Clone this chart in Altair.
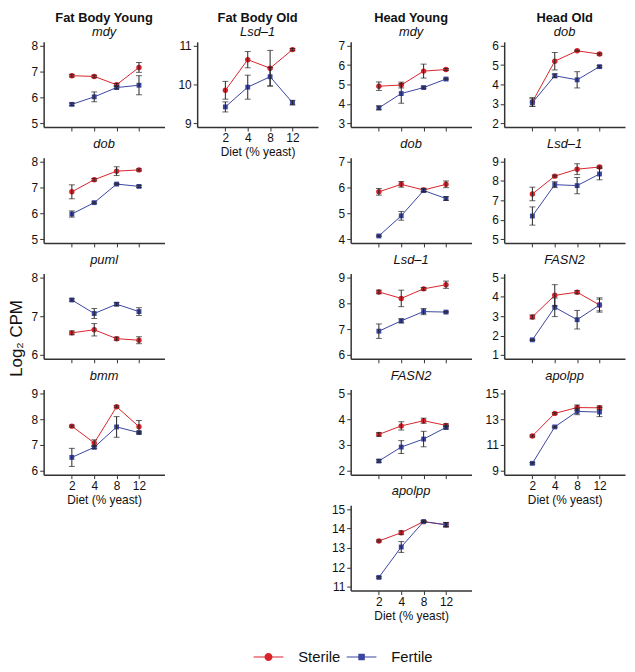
import altair as alt
import pandas as pd

DIETS = [2, 4, 8, 12]
CONDS = ["Sterile", "Fertile"]
RED = "#D8232A"
BLUE = "#3A45A0"
FONT = "Liberation Sans"

# ---- Fat Body Young ----
fby_mdy_ster = [6.84, 6.81, 6.49, 7.16]
fby_mdy_ster_err = [0.05, 0.05, 0.05, 0.19]
fby_mdy_fert = [5.73, 6.02, 6.38, 6.47]
fby_mdy_fert_err = [0.05, 0.19, 0.05, 0.37]

fby_dob_ster = [6.83, 7.30, 7.63, 7.68]
fby_dob_ster_err = [0.27, 0.05, 0.17, 0.04]
fby_dob_fert = [5.97, 6.41, 7.13, 7.04]
fby_dob_fert_err = [0.12, 0.03, 0.03, 0.04]

fby_puml_ster = [6.57, 6.65, 6.42, 6.38]
fby_puml_ster_err = [0.05, 0.16, 0.04, 0.09]
fby_puml_fert = [7.42, 7.07, 7.31, 7.12]
fby_puml_fert_err = [0.03, 0.13, 0.04, 0.10]

fby_bmm_ster = [7.73, 7.08, 8.48, 7.71]
fby_bmm_ster_err = [0.04, 0.12, 0.04, 0.24]
fby_bmm_fert = [6.52, 6.91, 7.70, 7.48]
fby_bmm_fert_err = [0.35, 0.05, 0.40, 0.05]

# ---- Fat Body Old ----
fbo_lsd1_ster = [9.85, 10.64, 10.42, 10.90]
fbo_lsd1_ster_err = [0.23, 0.21, 0.46, 0.03]
fbo_lsd1_fert = [9.42, 9.93, 10.20, 9.53]
fbo_lsd1_fert_err = [0.13, 0.31, 0.24, 0.06]

# ---- Head Young ----
hy_mdy_ster = [4.91, 4.97, 5.69, 5.77]
hy_mdy_ster_err = [0.22, 0.15, 0.36, 0.05]
hy_mdy_fert = [3.79, 4.53, 4.84, 5.28]
hy_mdy_fert_err = [0.10, 0.50, 0.04, 0.04]

hy_dob_ster = [5.83, 6.12, 5.90, 6.12]
hy_dob_ster_err = [0.13, 0.11, 0.07, 0.13]
hy_dob_fert = [4.12, 4.90, 5.88, 5.57]
hy_dob_fert_err = [0.03, 0.17, 0.05, 0.07]

hy_lsd1_ster = [8.44, 8.19, 8.56, 8.72]
hy_lsd1_ster_err = [0.07, 0.32, 0.05, 0.14]
hy_lsd1_fert = [6.92, 7.32, 7.68, 7.66]
hy_lsd1_fert_err = [0.28, 0.08, 0.12, 0.03]

hy_fasn2_ster = [3.41, 3.74, 3.94, 3.76]
hy_fasn2_ster_err = [0.07, 0.16, 0.10, 0.06]
hy_fasn2_fert = [2.38, 2.92, 3.23, 3.68]
hy_fasn2_fert_err = [0.05, 0.25, 0.30, 0.06]

hy_apolpp_ster = [13.36, 13.79, 14.36, 14.20]
hy_apolpp_ster_err = [0.05, 0.10, 0.04, 0.10]
hy_apolpp_fert = [11.48, 13.05, 14.36, 14.20]
hy_apolpp_fert_err = [0.04, 0.28, 0.04, 0.12]

# ---- Head Old ----
ho_dob_ster = [3.10, 5.20, 5.74, 5.57]
ho_dob_ster_err = [0.22, 0.45, 0.03, 0.05]
ho_dob_fert = [3.06, 4.45, 4.24, 4.92]
ho_dob_fert_err = [0.20, 0.10, 0.42, 0.05]

ho_lsd1_ster = [7.33, 8.25, 8.61, 8.72]
ho_lsd1_ster_err = [0.35, 0.05, 0.28, 0.05]
ho_lsd1_fert = [6.19, 7.81, 7.76, 8.36]
ho_lsd1_fert_err = [0.47, 0.15, 0.42, 0.30]

ho_fasn2_ster = [2.96, 4.08, 4.24, 3.58]
ho_fasn2_ster_err = [0.10, 0.55, 0.08, 0.37]
ho_fasn2_fert = [1.78, 3.46, 2.82, 3.58]
ho_fasn2_fert_err = [0.03, 0.48, 0.48, 0.30]

ho_apolpp_ster = [11.70, 13.45, 13.90, 13.88]
ho_apolpp_ster_err = [0.08, 0.06, 0.20, 0.15]
ho_apolpp_fert = [9.58, 12.40, 13.60, 13.55]
ho_apolpp_fert_err = [0.06, 0.06, 0.25, 0.35]

COLUMN_TITLES = ["Fat Body Young", "Fat Body Old", "Head Young", "Head Old"]
X_TITLE = "Diet (% yeast)"
Y_TITLE = "Log\u2082 CPM"

W, H = 122, 86

LEG_CIRCLE = ("M-1,-0.035H1V0.035H-1Z "
              "M0.27,0A0.27,0.27 0 1,1 -0.27,0A0.27,0.27 0 1,1 0.27,0Z")
LEG_SQUARE = ("M-1,-0.035H1V0.035H-1Z "
              "M-0.22,-0.22H0.22V0.22H-0.22Z")

X_LABEL_EXPR = "['', '2', '4', '8', '12'][datum.value]"


def make_df(s, se, f, fe):
    rows = []
    for cond, m, e in (("Sterile", s, se), ("Fertile", f, fe)):
        for i, (d, mv, ev) in enumerate(zip(DIETS, m, e)):
            rows.append({"diet": d, "pos": i + 1, "cond": cond, "mean": mv,
                         "lo": mv - ev, "hi": mv + ev})
    return pd.DataFrame(rows)


def panel(gene, s, se, f, fe, ticks, domain, bottom=False, legend=False,
          col_title=None):
    df = make_df(s, se, f, fe)
    xax = alt.Axis(title=X_TITLE if bottom else None, labels=bottom,
                   labelAngle=0, values=[1, 2, 3, 4], labelExpr=X_LABEL_EXPR)
    x = alt.X("pos:Q", scale=alt.Scale(domain=[-0.26, 5.14], nice=False, zero=False),
              axis=xax)
    yscale = alt.Scale(domain=domain, nice=False, zero=False)
    yax = alt.Axis(values=ticks, title=None, format="d")
    y = alt.Y("mean:Q", scale=yscale, axis=yax)
    base = alt.Chart(df)
    ster = base.transform_filter("datum.cond == 'Sterile'")
    fert = base.transform_filter("datum.cond == 'Fertile'")
    line_s = ster.mark_line(strokeWidth=1, color=RED).encode(x=x, y=y)
    line_f = fert.mark_line(strokeWidth=1, color=BLUE).encode(x=x, y=y)
    pts_s = ster.mark_point(shape="circle", filled=True, size=30, opacity=1,
                            color=RED).encode(x=x, y=y)
    pts_f = fert.mark_point(shape="square", filled=True, size=24, opacity=1,
                            color=BLUE).encode(x=x, y=y)
    rule = base.mark_rule(color="#222", strokeWidth=1).encode(
        x=x, y=alt.Y("lo:Q", scale=yscale, axis=yax), y2="hi:Q")
    cap_lo = base.mark_tick(color="#222", size=6, thickness=1,
                            orient="horizontal").encode(
        x=x, y=alt.Y("lo:Q", scale=yscale, axis=yax))
    cap_hi = base.mark_tick(color="#222", size=6, thickness=1,
                            orient="horizontal").encode(
        x=x, y=alt.Y("hi:Q", scale=yscale, axis=yax))
    layers = [line_s, line_f, pts_s, pts_f, rule, cap_lo, cap_hi]
    if legend:
        leg = base.transform_filter("false").mark_point(filled=True, opacity=1).encode(
            x=x, y=y,
            fill=alt.Fill("cond:N", scale=alt.Scale(domain=CONDS, range=[RED, BLUE]),
                          legend=alt.Legend(title=None)),
            shape=alt.Shape("cond:N", scale=alt.Scale(domain=CONDS,
                                                       range=[LEG_CIRCLE, LEG_SQUARE]),
                            legend=alt.Legend(title=None)))
        layers.append(leg)
    if col_title:
        title = alt.TitleParams(col_title, subtitle=gene, fontSize=13, fontWeight="bold",
                                font=FONT, subtitleFont=FONT, subtitleFontSize=13,
                                subtitleFontStyle="italic", subtitleColor="#111",
                                subtitlePadding=1, offset=1, anchor="middle")
    else:
        title = alt.TitleParams(gene, fontStyle="italic", fontWeight="normal",
                                fontSize=13, font=FONT, offset=5, anchor="middle")
    return alt.layer(*layers).properties(width=W, height=H, title=title)


def blank():
    return alt.Chart(pd.DataFrame({"v": [0]})).mark_point(opacity=0).encode(
        x=alt.X("v:Q", axis=None), y=alt.Y("v:Q", axis=None)
    ).properties(width=W, height=H)


cells = [
    # row 1
    panel("mdy", fby_mdy_ster, fby_mdy_ster_err, fby_mdy_fert, fby_mdy_fert_err,
          [5, 6, 7, 8], [4.85, 8.15], legend=True, col_title=COLUMN_TITLES[0]),
    panel("Lsd\u20131", fbo_lsd1_ster, fbo_lsd1_ster_err, fbo_lsd1_fert, fbo_lsd1_fert_err,
          [9, 10, 11], [8.9, 11.1], bottom=True, col_title=COLUMN_TITLES[1]),
    panel("mdy", hy_mdy_ster, hy_mdy_ster_err, hy_mdy_fert, hy_mdy_fert_err,
          [3, 4, 5, 6, 7], [2.8, 7.2], col_title=COLUMN_TITLES[2]),
    panel("dob", ho_dob_ster, ho_dob_ster_err, ho_dob_fert, ho_dob_fert_err,
          [2, 3, 4, 5, 6], [1.8, 6.2], col_title=COLUMN_TITLES[3]),
    # row 2
    panel("dob", fby_dob_ster, fby_dob_ster_err, fby_dob_fert, fby_dob_fert_err,
          [5, 6, 7, 8], [4.85, 8.15]),
    blank(),
    panel("dob", hy_dob_ster, hy_dob_ster_err, hy_dob_fert, hy_dob_fert_err,
          [4, 5, 6, 7], [3.85, 7.15]),
    panel("Lsd\u20131", ho_lsd1_ster, ho_lsd1_ster_err, ho_lsd1_fert, ho_lsd1_fert_err,
          [5, 6, 7, 8, 9], [4.8, 9.2]),
    # row 3
    panel("puml", fby_puml_ster, fby_puml_ster_err, fby_puml_fert, fby_puml_fert_err,
          [6, 7, 8], [5.9, 8.1]),
    blank(),
    panel("Lsd\u20131", hy_lsd1_ster, hy_lsd1_ster_err, hy_lsd1_fert, hy_lsd1_fert_err,
          [6, 7, 8, 9], [5.85, 9.15]),
    panel("FASN2", ho_fasn2_ster, ho_fasn2_ster_err, ho_fasn2_fert, ho_fasn2_fert_err,
          [1, 2, 3, 4, 5], [0.8, 5.2]),
    # row 4
    panel("bmm", fby_bmm_ster, fby_bmm_ster_err, fby_bmm_fert, fby_bmm_fert_err,
          [6, 7, 8, 9], [5.85, 9.15], bottom=True),
    blank(),
    panel("FASN2", hy_fasn2_ster, hy_fasn2_ster_err, hy_fasn2_fert, hy_fasn2_fert_err,
          [2, 3, 4, 5], [1.85, 5.15]),
    panel("apolpp", ho_apolpp_ster, ho_apolpp_ster_err, ho_apolpp_fert, ho_apolpp_fert_err,
          [9, 11, 13, 15], [8.7, 15.3], bottom=True),
    # row 5
    blank(),
    blank(),
    panel("apolpp", hy_apolpp_ster, hy_apolpp_ster_err, hy_apolpp_fert, hy_apolpp_fert_err,
          [11, 12, 13, 14, 15], [10.8, 15.2], bottom=True),
    blank(),
]

chart = alt.concat(*cells, columns=4, spacing={"row": 31, "column": 33},
                   bounds="flush").properties(
    title=alt.TitleParams(Y_TITLE, orient="left", fontSize=17, fontWeight="normal",
                          font=FONT, anchor="middle", offset=5),
    padding={"left": 0, "top": 0, "right": 2, "bottom": 0},
).configure_view(stroke=None).configure_axis(
    grid=False, domainColor="#333", domainWidth=1.5, tickColor="#333",
    tickSize=4, labelFont=FONT, labelFontSize=12, labelColor="#111",
    titleFont=FONT, titleFontSize=12, titleFontWeight="normal", titleColor="#111",
    labelPadding=2, titlePadding=3
).configure_legend(
    orient="none", legendX=212, legendY=606, direction="horizontal",
    symbolSize=900, labelFont=FONT, labelOffset=15,
    labelFontSize=15, labelColor="#111", columnPadding=6, symbolStrokeWidth=0
).configure_title(color="#111")

chart.save("out.html", embed_options={"renderer": "svg", "actions": False})
